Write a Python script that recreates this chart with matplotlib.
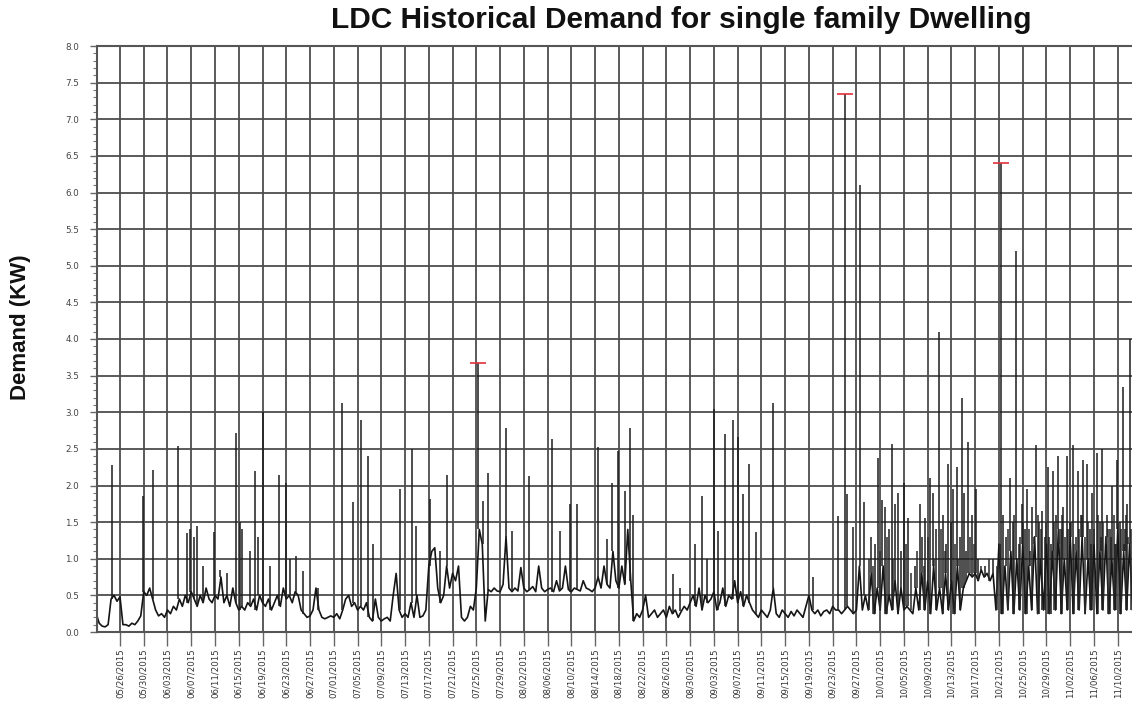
import numpy as np
import matplotlib
matplotlib.use("Agg")
import matplotlib.pyplot as plt
from matplotlib.ticker import MultipleLocator

# x axis is in days since 05/22/2015
date_labels = [
    "05/26/2015", "05/30/2015", "06/03/2015", "06/07/2015", "06/11/2015",
    "06/15/2015", "06/19/2015", "06/23/2015", "06/27/2015", "07/01/2015",
    "07/05/2015", "07/09/2015", "07/13/2015", "07/17/2015", "07/21/2015",
    "07/25/2015", "07/29/2015", "08/02/2015", "08/06/2015", "08/10/2015",
    "08/14/2015", "08/18/2015", "08/22/2015", "08/26/2015", "08/30/2015",
    "09/03/2015", "09/07/2015", "09/11/2015", "09/15/2015", "09/19/2015",
    "09/23/2015", "09/27/2015", "10/01/2015", "10/05/2015", "10/09/2015",
    "10/13/2015", "10/17/2015", "10/21/2015", "10/25/2015", "10/29/2015",
    "11/02/2015", "11/06/2015", "11/10/2015",
]
tick_days = list(range(4, 173, 4))

# background demand, one reading every half day (kW)
base_kw = [
    0.25, 0.12, 0.08, 0.07, 0.10, 0.45, 0.50, 0.42, 0.48, 0.10,
    0.10, 0.08, 0.12, 0.10, 0.15, 0.22, 0.55, 0.50, 0.60, 0.45,
    0.30, 0.22, 0.25, 0.20, 0.30, 0.25, 0.35, 0.30, 0.45, 0.35,
    0.50, 0.40, 0.55, 0.45, 0.35, 0.50, 0.40, 0.60, 0.45, 0.40,
    0.50, 0.45, 0.75, 0.40, 0.50, 0.35, 0.60, 0.40, 0.30, 0.35,
    0.30, 0.40, 0.35, 0.45, 0.30, 0.50, 0.40, 0.35, 0.45, 0.30,
    0.40, 0.50, 0.35, 0.60, 0.45, 0.50, 0.40, 0.55, 0.50, 0.30,
    0.25, 0.20, 0.22, 0.30, 0.60, 0.30, 0.20, 0.18, 0.20, 0.22,
    0.20, 0.25, 0.18, 0.30, 0.45, 0.50, 0.35, 0.40, 0.30, 0.35,
    0.30, 0.40, 0.20, 0.15, 0.45, 0.20, 0.15, 0.18, 0.20, 0.15,
    0.50, 0.80, 0.30, 0.20, 0.25, 0.20, 0.40, 0.20, 0.50, 0.20,
    0.22, 0.30, 0.90, 1.10, 1.15, 0.60, 0.40, 0.50, 0.90, 0.60,
    0.80, 0.70, 0.90, 0.20, 0.15, 0.20, 0.35, 0.30, 0.60, 1.40,
    1.20, 0.15, 0.58, 0.55, 0.60, 0.56, 0.55, 0.65, 1.30, 0.60,
    0.55, 0.60, 0.56, 0.88, 0.60, 0.55, 0.58, 0.62, 0.55, 0.90,
    0.60, 0.55, 0.58, 0.60, 0.55, 0.70, 0.56, 0.60, 0.90, 0.58,
    0.55, 0.60, 0.58, 0.56, 0.70, 0.60, 0.58, 0.55, 0.60, 0.75,
    0.60, 0.90, 0.65, 0.60, 1.10, 0.70, 0.60, 0.90, 0.65, 1.40,
    0.70, 0.15, 0.25, 0.20, 0.30, 0.50, 0.20, 0.25, 0.30, 0.20,
    0.25, 0.30, 0.20, 0.35, 0.25, 0.30, 0.20, 0.28, 0.35, 0.30,
    0.40, 0.50, 0.35, 0.60, 0.30, 0.50, 0.40, 0.45, 0.55, 0.30,
    0.40, 0.60, 0.35, 0.50, 0.45, 0.70, 0.40, 0.55, 0.35, 0.50,
    0.40, 0.30, 0.25, 0.20, 0.30, 0.25, 0.20, 0.30, 0.60, 0.25,
    0.20, 0.30, 0.25, 0.20, 0.28, 0.22, 0.30, 0.25, 0.20, 0.35,
    0.50, 0.30, 0.25, 0.30, 0.22, 0.28, 0.30, 0.25, 0.35, 0.30,
    0.30, 0.25, 0.30, 0.35, 0.30, 0.25, 0.30, 0.90, 0.30, 0.50,
    0.30, 0.80, 0.25, 0.60, 0.30, 0.90, 0.25, 0.50, 0.30, 0.70,
    0.25, 0.60, 0.30, 0.35, 0.30, 0.25, 0.60, 0.30, 0.80, 0.30,
    0.70, 0.25, 0.90, 0.30, 0.60, 0.25, 0.80, 0.30, 0.70, 0.25,
    0.90, 0.30, 0.60, 0.70, 0.80, 0.75, 0.80, 0.70, 0.85, 0.75,
    0.80, 0.70, 0.80, 0.30, 1.20, 0.25, 0.90, 0.30, 1.10, 0.25,
    1.00, 0.30, 1.20, 0.25, 0.90, 0.30, 1.30, 0.25, 1.00, 0.30,
    1.20, 0.25, 1.10, 0.30, 1.40, 0.25, 1.00, 0.30, 1.30, 0.25,
    1.10, 0.30, 1.30, 0.25, 1.00, 0.30, 1.20, 0.25, 1.10, 0.30,
    1.30, 0.25, 1.00, 0.30, 1.40, 0.25, 1.10, 0.30, 1.20, 0.30,
]

# short demand peaks (day, kW)
spike_days = [
    2.7, 7.9, 9.6, 13.8, 15.3, 15.8, 16.5, 17.0, 18.0, 19.9, 20.8, 22.0,
    23.6, 24.2, 24.6, 25.9, 26.8, 27.3, 28.1, 29.3, 30.8, 32.0, 32.6, 33.7,
    34.8, 37.4, 41.4, 43.3, 44.6, 45.8, 46.6, 51.2, 53.2, 53.9, 56.2, 57.9,
    59.1, 64.3, 64.7, 65.1, 65.9, 69.0, 70.0, 72.9, 76.8, 78.1, 79.8, 81.0,
    84.5, 86.0, 86.9, 87.9, 89.1, 89.9, 90.4, 97.1, 98.3, 100.8, 102.0, 102.9,
    104.0, 104.7, 105.9, 107.2, 108.1, 108.9, 109.9, 111.1, 114.0, 120.7,
    124.9, 126.1, 126.4, 127.4, 128.6, 129.3, 130.5, 131.1, 131.6, 132.3,
    132.8, 133.5, 134.0, 134.5, 135.0, 135.5, 136.0, 136.7, 137.8, 138.7,
    139.0, 139.6, 140.4, 140.9, 141.4, 141.9, 142.6, 143.1, 143.4, 143.9,
    144.3, 144.9, 145.4, 145.8, 146.1, 146.4, 146.8, 147.5, 148.1, 148.4,
    149.6, 151.0, 152.4, 152.7, 153.2, 153.9, 154.3, 154.9, 155.3, 155.9,
    156.4, 156.7, 157.2, 157.6, 158.2, 158.7, 159.3, 159.7, 160.3, 160.7,
    161.1, 161.6, 161.9, 162.4, 162.8, 163.5, 163.9, 164.5, 164.9, 165.3,
    165.8, 166.2, 166.8, 167.3, 167.7, 168.2, 168.5, 169.0, 169.4, 169.8,
    170.2, 170.7, 171.0, 171.5, 171.9, 172.4, 172.9, 173.2, 173.6, 174.1,
]
spike_kw = [
    2.28, 1.86, 2.21, 2.54, 1.35, 1.40, 1.30, 1.45, 0.90, 1.36, 0.85, 0.80,
    2.72, 1.50, 1.40, 1.10, 2.20, 1.30, 3.00, 0.90, 2.15, 2.04, 1.00, 1.04,
    0.83, 0.60, 3.13, 1.77, 2.90, 2.40, 1.20, 1.95, 2.50, 1.45, 1.81, 1.10,
    2.15, 3.67, 1.40, 1.79, 2.17, 2.79, 1.38, 2.13, 2.64, 1.38, 1.75, 1.75,
    2.52, 1.27, 2.04, 2.47, 1.92, 2.79, 1.60, 0.79, 0.60, 1.20, 1.86, 1.00,
    3.04, 1.38, 2.70, 2.90, 2.66, 1.88, 2.29, 1.36, 3.13, 0.75,
    1.58, 7.35, 1.88, 1.43, 6.10, 1.77, 1.30, 1.20, 2.38, 1.80,
    1.70, 1.40, 2.57, 1.75, 1.90, 1.10, 2.04, 1.55, 0.90, 1.75,
    1.30, 1.55, 2.10, 1.90, 1.40, 4.10, 1.60, 1.20, 2.30, 1.50,
    1.95, 2.25, 1.30, 3.20, 1.90, 1.10, 2.60, 1.60, 1.95, 1.00,
    0.90, 1.00, 6.40, 1.60, 1.30, 2.10, 1.50, 5.20, 1.20, 1.75,
    1.40, 1.95, 1.10, 1.70, 2.55, 1.50, 1.65, 1.30, 2.25, 1.20,
    2.20, 1.60, 2.40, 1.40, 1.70, 2.40, 1.50, 2.55, 1.30, 2.20,
    1.60, 2.35, 2.30, 1.40, 1.90, 1.20, 2.45, 1.50, 2.50, 1.30,
    1.60, 1.40, 2.00, 1.20, 2.35, 1.50, 3.35, 1.40, 1.75, 4.00,
]

# the many smaller surges of the autumn months (day, kW)
surge_days = [
    130.2, 130.8, 131.9, 133.2, 134.2, 136.3, 137.2, 138.2, 139.3, 140.1,
    141.1, 142.2, 142.9, 144.6, 145.1, 147.1, 147.8, 149.0, 150.3, 151.6,
    152.1, 153.5, 154.6, 155.6, 156.1, 157.0, 157.9, 158.5, 159.0, 159.9,
    160.5, 161.3, 162.1, 162.6, 163.2, 163.7, 164.2, 164.7, 165.5, 166.0,
    166.5, 167.0, 167.5, 168.0, 168.7, 169.2, 169.6, 170.0, 170.4, 170.9,
    171.3, 171.7, 172.1, 172.6, 173.0, 173.4, 173.8, 174.3,
]
surge_kw = [
    1.00, 0.90, 1.10, 1.30, 1.00, 1.20, 0.80, 1.10, 0.90, 1.30,
    1.00, 1.40, 1.10, 1.20, 1.00, 1.30, 1.20, 0.90, 1.00, 0.90,
    1.00, 1.40, 1.60, 1.30, 1.50, 1.40, 1.20, 1.60, 1.40, 1.50,
    1.30, 1.50, 1.20, 1.60, 1.30, 1.40, 1.50, 1.20, 1.40, 1.60,
    1.30, 1.50, 1.20, 1.40, 1.60, 1.30, 1.50, 1.20, 1.40, 1.30,
    1.60, 1.20, 1.50, 1.40, 1.20, 1.60, 1.30, 1.40,
]

# peaks flagged in red on the original chart
marked_days = [64.3, 126.1, 152.4]
marked_kw = [3.67, 7.35, 6.40]

base_days = np.arange(len(base_kw)) * 0.5


def floor_of(days):
    return [base_kw[min(int(round(d * 2)), len(base_kw) - 1)] for d in days]


fig = plt.figure(figsize=(11.32, 7.05), dpi=100)
ax = fig.add_axes([97 / 1132, 73 / 705, 1035 / 1132, 586 / 705])

ax.plot(base_days, base_kw, color="#151515", lw=1.2)
ax.vlines(surge_days, floor_of(surge_days), surge_kw, color="#2a2a2a", lw=1.1)
ax.vlines(spike_days, floor_of(spike_days), spike_kw, color="#1c1c1c", lw=1.1)
ax.plot(marked_days, marked_kw, ls="none", marker="_", color="#e0303a",
        markersize=11, markeredgewidth=1.2)

ax.set_xlim(0.13, 174.4)
ax.set_ylim(0, 8)
ax.set_xticks(tick_days)
ax.set_xticklabels(date_labels, rotation=90, fontsize=6.2, color="#333333")
ax.set_yticks(np.arange(0, 8.01, 0.5))
ax.set_yticklabels(["%.1f" % v for v in np.arange(0, 8.01, 0.5)],
                   fontsize=6.3, color="#444444")
ax.yaxis.set_minor_locator(MultipleLocator(0.1))
ax.tick_params(axis="x", length=10, width=1.0, color="#666666", pad=2)
ax.tick_params(axis="y", which="major", length=5, width=1.0, color="#666666", pad=8)
ax.tick_params(axis="y", which="minor", length=3, width=0.8, color="#777777")

ax.set_axisbelow(True)
ax.grid(True, which="major", color="#4d4d4d", lw=1.3)
for side in ["left", "bottom", "top"]:
    ax.spines[side].set_color("#555555")
    ax.spines[side].set_linewidth(1.5)
ax.spines["right"].set_visible(False)

fig.text(681 / 1132, 1 - 20 / 705, "LDC Historical Demand for single family Dwelling",
         ha="center", va="center", fontsize=21.5, fontweight="bold",
         family=["Liberation Sans", "DejaVu Sans"], color="#111111")
fig.text(21 / 1132, 1 - 327 / 705, "Demand (KW)", rotation=90,
         ha="center", va="center", fontsize=16, fontweight="bold",
         family=["Liberation Sans", "DejaVu Sans"], color="#111111")

fig.savefig("out.png", dpi=100)
